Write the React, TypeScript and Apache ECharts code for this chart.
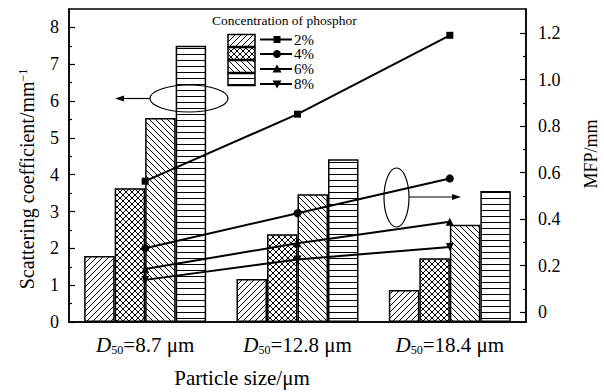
import React, { useEffect, useRef } from 'react';
import * as echarts from 'echarts';

const categories = ['8.7', '12.8', '18.4'];
const concentrations = ['2%', '4%', '6%', '8%'];
const scattering2 = [1.79, 1.17, 0.87];
const scattering4 = [3.63, 2.38, 1.73];
const scattering6 = [5.54, 3.47, 2.64];
const scattering8 = [7.5, 4.42, 3.56];
const mfp2 = [0.563, 0.851, 1.19];
const mfp4 = [0.275, 0.425, 0.575];
const mfp6 = [0.186, 0.296, 0.389];
const mfp8 = [0.139, 0.227, 0.28];
const leftTicks = [0, 1, 2, 3, 4, 5, 6, 7, 8];
const leftMinorTicks = [0.5, 1.5, 2.5, 3.5, 4.5, 5.5, 6.5, 7.5];
const rightTicks = [0, 0.2, 0.4, 0.6, 0.8, 1.0, 1.2];
const rightMinorTicks = [0.1, 0.3, 0.5, 0.7, 0.9, 1.1];

const FONT = 'Liberation Serif';

function makePattern(kind: string) {
  const s = 6;
  const c = document.createElement('canvas');
  c.width = s;
  c.height = s;
  const ctx = c.getContext('2d') as CanvasRenderingContext2D;
  ctx.fillStyle = '#fff';
  ctx.fillRect(0, 0, s, s);
  ctx.strokeStyle = '#000';
  ctx.lineWidth = 1;
  const fwd = () => {
    for (const o of [-s, 0, s]) {
      ctx.beginPath();
      ctx.moveTo(o, s);
      ctx.lineTo(o + s, 0);
      ctx.stroke();
    }
  };
  const back = () => {
    for (const o of [-s, 0, s]) {
      ctx.beginPath();
      ctx.moveTo(o, 0);
      ctx.lineTo(o + s, s);
      ctx.stroke();
    }
  };
  if (kind === 'fwd') fwd();
  else if (kind === 'cross') {
    fwd();
    back();
  } else if (kind === 'back') back();
  else {
    ctx.fillStyle = '#000';
    ctx.fillRect(0, 0, s, 1);
  }
  return { image: c, repeat: 'repeat' };
}

export default function App() {
  const ref = useRef<HTMLDivElement>(null);
  useEffect(() => {
    if (!ref.current) return;
    const chart = echarts.init(ref.current, undefined, { renderer: 'svg' });
    const patterns = [makePattern('fwd'), makePattern('cross'), makePattern('back'), makePattern('horiz')];
    const barData = [scattering2, scattering4, scattering6, scattering8];
    const lineData = [mfp2, mfp4, mfp6, mfp8];
    const symbols = ['rect', 'circle', 'triangle', 'triangle'];
    const symbolRot = [0, 0, 0, 180];
    const symbolSizes = [7, 8, 8, 8];

    const barSeries = barData.map((d, i) => ({
      type: 'bar',
      name: concentrations[i] + ' bar',
      data: d,
      xAxisIndex: 0,
      yAxisIndex: 0,
      barWidth: 30.5,
      barGap: '0%',
      itemStyle: { color: patterns[i], borderColor: '#000', borderWidth: 1.5 },
      z: 2,
    }));
    const lineSeries = lineData.map((d, i) => ({
      type: 'line',
      name: concentrations[i],
      data: d,
      xAxisIndex: 0,
      yAxisIndex: 2,
      symbol: symbols[i],
      symbolRotate: symbolRot[i],
      symbolSize: symbolSizes[i],
      lineStyle: { color: '#000', width: 2 },
      itemStyle: { color: '#000' },
      z: 5,
    }));

    const legendRowsBox = [34.5, 47.5, 60.5, 73.5];
    const legendRowsLine = [39.5, 54, 69, 84];
    const legendGraphics: any[] = [];
    legendGraphics.push({
      type: 'text',
      x: 212,
      y: 20,
      style: { text: 'Concentration of phosphor', fontFamily: FONT, fontSize: 13.5, fill: '#000', verticalAlign: 'middle' },
    });
    concentrations.forEach((c, i) => {
      legendGraphics.push({
        type: 'rect',
        shape: { x: 228, y: legendRowsBox[i], width: 27, height: 12 },
        style: { fill: patterns[i], stroke: '#000', lineWidth: 1.5 },
      });
      const y = legendRowsLine[i];
      legendGraphics.push({
        type: 'line',
        shape: { x1: 260, y1: y, x2: 292, y2: y },
        style: { stroke: '#000', lineWidth: 2 },
      });
      if (i === 0) {
        legendGraphics.push({ type: 'rect', shape: { x: 273.5, y: y - 3.5, width: 7, height: 7 }, style: { fill: '#000' } });
      } else if (i === 1) {
        legendGraphics.push({ type: 'circle', shape: { cx: 277, cy: y, r: 4 }, style: { fill: '#000' } });
      } else if (i === 2) {
        legendGraphics.push({ type: 'polygon', shape: { points: [[277, y - 4.5], [281.5, y + 3.5], [272.5, y + 3.5]] }, style: { fill: '#000' } });
      } else {
        legendGraphics.push({ type: 'polygon', shape: { points: [[277, y + 4.5], [281.5, y - 3.5], [272.5, y - 3.5]] }, style: { fill: '#000' } });
      }
      legendGraphics.push({
        type: 'text',
        x: 294,
        y: y,
        style: { text: c, fontFamily: FONT, fontSize: 15, fill: '#000', verticalAlign: 'middle', lineHeight: 13 },
      });
    });

    const titles = [
      {
        type: 'text',
        x: 27,
        y: 179,
        rotation: Math.PI / 2,
        style: {
          text: 'Scattering coefficient/mm{sup|−1}',
          fontFamily: FONT,
          fontSize: 20,
          fill: '#000',
          align: 'center',
          verticalAlign: 'middle',
          rich: { sup: { fontSize: 12, fontFamily: FONT, fill: '#000', verticalAlign: 'top', lineHeight: 12, padding: [0, 0, 7, 0] } },
        },
      },
      {
        type: 'text',
        x: 591,
        y: 154,
        rotation: Math.PI / 2,
        style: { text: 'MFP/mm', fontFamily: FONT, fontSize: 18, fill: '#000', align: 'center', verticalAlign: 'middle' },
      },
      {
        type: 'text',
        x: 242,
        y: 378,
        style: { text: 'Particle size/μm', fontFamily: FONT, fontSize: 21, fill: '#000', align: 'center', verticalAlign: 'middle' },
      },
    ];

    const annotations = [
      { type: 'ellipse', shape: { cx: 189, cy: 98.5, rx: 39, ry: 13.5 }, style: { fill: 'none', stroke: '#000', lineWidth: 1.2 }, z: 10 },
      { type: 'line', shape: { x1: 150, y1: 98.5, x2: 121, y2: 98.5 }, style: { stroke: '#000', lineWidth: 1.2 }, z: 10 },
      { type: 'polygon', shape: { points: [[115, 98.5], [124, 95.5], [124, 101.5]] }, style: { fill: '#000' }, z: 10 },
      { type: 'ellipse', shape: { cx: 396.5, cy: 197.5, rx: 12.5, ry: 29.5 }, style: { fill: 'none', stroke: '#000', lineWidth: 1.2 }, z: 10 },
      { type: 'line', shape: { x1: 409, y1: 197, x2: 455, y2: 197 }, style: { stroke: '#000', lineWidth: 1.2 }, z: 10 },
      { type: 'polygon', shape: { points: [[461, 197], [452, 194], [452, 200]] }, style: { fill: '#000' }, z: 10 },
    ];

    const axisLabelStyle = { color: '#000', fontFamily: FONT, fontSize: 18 };

    chart.setOption({
      animation: false,
      backgroundColor: '#fff',
      grid: { left: 69, right: 78, top: 9, bottom: 70, show: true, borderColor: '#000', borderWidth: 1.5, backgroundColor: 'transparent' },
      xAxis: [
        {
          type: 'category',
          data: categories,
          axisLine: { lineStyle: { color: '#000', width: 1.5 } },
          axisTick: { inside: true, length: 3, lineStyle: { color: '#000', width: 1.2 } },
          axisLabel: {
            interval: 0,
            margin: 12,
            formatter: (v: string) => `{i|D}{s|50}{n|=${v} μm}`,
            rich: {
              i: { fontStyle: 'italic', fontSize: 21, fontFamily: FONT, color: '#000', lineHeight: 22 },
              s: { fontSize: 12, fontFamily: FONT, color: '#000', verticalAlign: 'bottom', lineHeight: 12, padding: [5, 0, 0, 0] },
              n: { fontSize: 21, fontFamily: FONT, color: '#000', lineHeight: 22 },
            },
          },
        },
      ],
      yAxis: [
        {
          type: 'value',
          min: 0,
          max: 8.5,
          position: 'left',
          splitLine: { show: false },
          axisLine: { show: true, lineStyle: { color: '#000', width: 1.5 } },
          axisTick: { show: true, inside: true, length: 6, customValues: leftTicks, lineStyle: { color: '#000', width: 1.2 } },
          axisLabel: { ...axisLabelStyle, margin: 10, customValues: leftTicks, formatter: (v: number) => String(v) },
        },
        {
          type: 'value',
          min: 0,
          max: 8.5,
          position: 'left',
          splitLine: { show: false },
          axisLine: { show: false },
          axisTick: { show: true, inside: true, length: 3, customValues: leftMinorTicks, lineStyle: { color: '#000', width: 1.2 } },
          axisLabel: { show: false },
        },
        {
          type: 'value',
          min: -0.042,
          max: 1.303,
          position: 'right',
          splitLine: { show: false },
          axisLine: { show: true, lineStyle: { color: '#000', width: 1.5 } },
          axisTick: { show: true, inside: true, length: 6, customValues: rightTicks, lineStyle: { color: '#000', width: 1.2 } },
          axisLabel: {
            ...axisLabelStyle,
            margin: 12,
            customValues: rightTicks,
            formatter: (v: number) => (Math.abs(v) < 1e-9 ? '0' : v.toFixed(1)),
          },
        },
        {
          type: 'value',
          min: -0.042,
          max: 1.303,
          position: 'right',
          splitLine: { show: false },
          axisLine: { show: false },
          axisTick: { show: true, inside: true, length: 3, customValues: rightMinorTicks, lineStyle: { color: '#000', width: 1.2 } },
          axisLabel: { show: false },
        },
      ],
      series: [...barSeries, ...lineSeries],
      graphic: [...legendGraphics, ...titles, ...annotations],
    });
    return () => chart.dispose();
  }, []);
  return <div ref={ref} style={{ width: 604, height: 392, position: 'fixed', left: 0, top: 0 }} />;
}
